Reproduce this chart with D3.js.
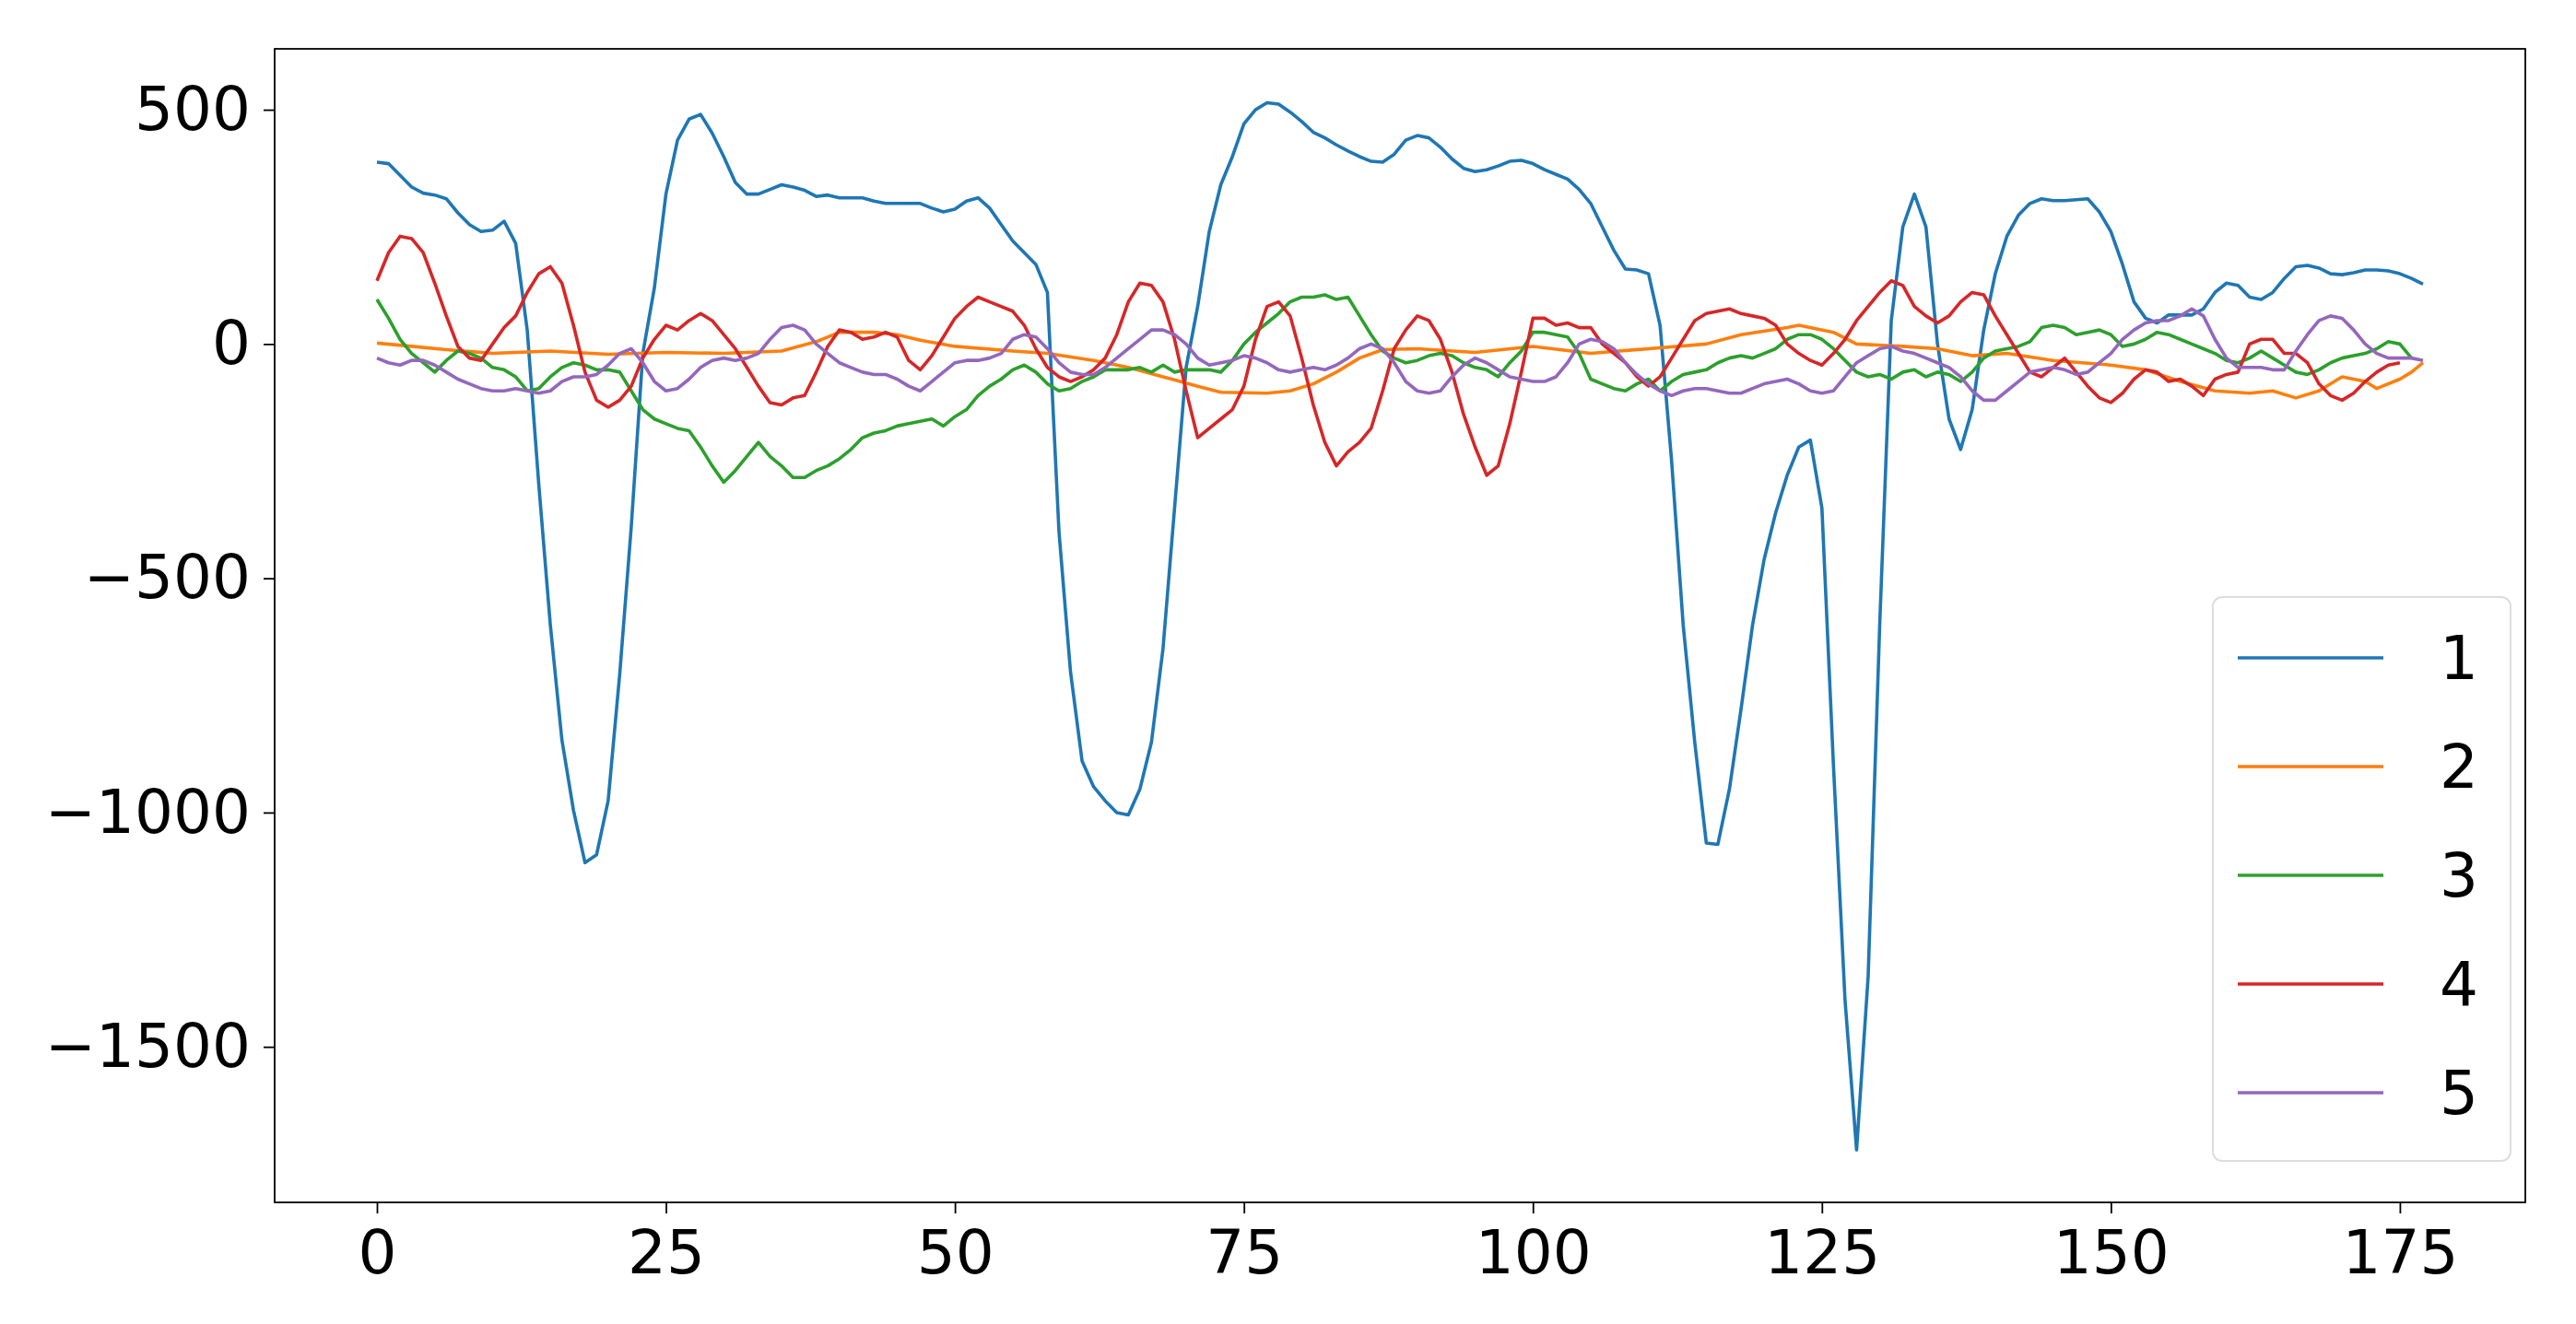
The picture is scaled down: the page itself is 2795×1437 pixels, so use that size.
<!DOCTYPE html>
<html><head><meta charset="utf-8">
<script src="https://cdn.jsdelivr.net/npm/d3@7"></script>
<style>body{margin:0;background:#fff}</style>
</head><body>
<svg id="c" width="2795" height="1437"></svg>
<script>
const seriesNames = ["1","2","3","4","5"];
const colors = ["#1f77b4","#ff7f0e","#2ca02c","#d62728","#9467bd"];
const xTicks = [0,25,50,75,100,125,150,175];
const yTicks = [500,0,-500,-1000,-1500];

const s1 = [388,385,360,335,322,318,310,280,255,240,243,262,215,30,-300,-600,-845,-995,-1107,-1090,-975,-705,-390,-20,120,320,435,480,490,450,400,345,320,320,330,340,335,328,315,318,312,312,312,305,300,300,300,300,290,282,288,305,312,290,255,220,195,170,110,-400,-700,-890,-945,-975,-1000,-1005,-950,-850,-650,-350,-50,80,240,340,400,470,500,515,512,495,475,452,440,425,412,400,390,388,405,435,445,440,420,395,375,368,372,380,390,392,385,372,362,352,330,300,250,200,160,158,150,40,-250,-600,-850,-1065,-1068,-950,-780,-600,-460,-360,-280,-220,-205,-350,-900,-1400,-1720,-1350,-600,50,250,320,250,0,-160,-225,-140,30,150,230,275,300,310,306,306,308,310,282,240,170,90,55,45,62,62,62,75,110,130,125,100,95,110,140,165,168,162,150,148,152,158,158,156,150,140,128];
const s2 = [[0,2],[3,-5],[6,-12],[10,-20],[15,-15],[20,-22],[25,-18],[30,-20],[35,-15],[38,5],[40,25],[43,25],[45,20],[47,8],[50,-5],[55,-15],[58,-20],[62,-35],[65,-50],[68,-70],[71,-90],[73,-103],[77,-105],[79,-100],[81,-85],[83,-60],[85,-30],[87,-12],[90,-10],[95,-18],[100,-5],[105,-20],[110,-10],[115,0],[118,20],[122,35],[123,40],[126,25],[128,0],[132,-5],[135,-10],[138,-25],[141,-20],[145,-35],[150,-45],[153,-55],[156,-80],[159,-100],[162,-105],[164,-100],[166,-115],[168,-100],[170,-70],[172,-80],[173,-95],[175,-75],[176,-60],[177,-40]];
const s3 = [95,55,10,-20,-40,-60,-35,-15,-20,-30,-50,-55,-70,-100,-95,-70,-50,-40,-45,-55,-55,-60,-100,-140,-160,-170,-180,-185,-220,-260,-295,-270,-240,-210,-240,-260,-285,-285,-270,-260,-245,-225,-200,-190,-185,-175,-170,-165,-160,-175,-155,-140,-110,-90,-75,-55,-45,-60,-85,-100,-95,-80,-70,-55,-55,-55,-50,-60,-45,-60,-55,-55,-55,-60,-35,0,25,45,65,90,100,100,105,95,100,60,20,-15,-30,-40,-35,-25,-20,-25,-40,-50,-55,-70,-40,-15,25,25,20,15,-20,-75,-85,-95,-100,-85,-75,-100,-80,-65,-60,-55,-40,-30,-25,-30,-20,-10,10,20,20,10,-10,-35,-60,-70,-65,-75,-60,-55,-70,-60,-65,-80,-60,-30,-15,-10,-5,5,35,40,35,20,25,30,20,-5,0,10,25,20,10,0,-10,-20,-35,-40,-30,-15,-30,-45,-60,-65,-55,-40,-30,-25,-20,-10,5,0,-30];
const s4 = [135,195,230,225,195,130,60,-5,-30,-35,0,35,60,110,150,165,130,40,-60,-120,-135,-120,-90,-30,10,40,30,50,65,50,20,-10,-50,-90,-125,-130,-115,-110,-60,-5,30,25,10,15,25,15,-35,-55,-25,15,55,80,100,90,80,70,40,-10,-50,-70,-80,-70,-55,-30,20,90,130,125,90,10,-100,-200,-180,-160,-140,-90,10,80,90,60,-30,-130,-210,-260,-230,-210,-180,-100,-10,30,60,50,10,-60,-150,-220,-280,-260,-170,-60,55,55,40,45,35,35,0,-20,-40,-70,-90,-70,-30,10,50,65,70,75,65,60,55,40,0,-20,-35,-45,-20,10,50,80,110,135,125,80,60,45,60,90,110,105,60,20,-20,-60,-70,-50,-30,-60,-90,-115,-125,-105,-75,-55,-60,-80,-75,-90,-110,-75,-65,-60,0,10,10,-20,-20,-40,-85,-110,-120,-105,-80,-60,-45,-40];
const s5 = [-30,-40,-45,-35,-35,-45,-60,-75,-85,-95,-100,-100,-95,-100,-105,-100,-80,-70,-70,-65,-45,-20,-10,-40,-80,-100,-95,-75,-50,-35,-30,-35,-30,-20,10,35,40,30,0,-20,-40,-50,-60,-65,-65,-75,-90,-100,-80,-60,-40,-35,-35,-30,-20,10,20,15,-10,-40,-60,-65,-65,-50,-30,-10,10,30,30,20,0,-30,-45,-40,-35,-25,-30,-40,-55,-60,-55,-50,-55,-45,-30,-10,0,-10,-40,-80,-100,-105,-100,-70,-45,-30,-40,-55,-70,-75,-80,-80,-70,-40,0,10,5,-10,-40,-65,-85,-100,-110,-100,-95,-95,-100,-105,-105,-95,-85,-80,-75,-85,-100,-105,-100,-70,-40,-25,-10,-5,-15,-20,-30,-40,-50,-70,-100,-120,-120,-100,-80,-60,-55,-50,-55,-65,-60,-40,-20,10,30,45,50,50,60,75,60,10,-30,-50,-50,-50,-55,-55,-15,20,50,60,55,30,0,-20,-30,-30,-30,-35];

const toPairs = a => a.map((v,i)=>[i,v]);
const data = [toPairs(s1), s2, toPairs(s3), toPairs(s4), toPairs(s5)];

const L=298,R=2740,T=53,B=1305;
const x = d3.scale = d3.scaleLinear().domain([-8.85,185.85]).range([L,R]);
const y = d3.scaleLinear().domain([-1832,630]).range([B,T]);
const svg = d3.select("#c");
const font = "DejaVu Sans, sans-serif";

const line = d3.line().x(d=>x(d[0])).y(d=>y(d[1]));
data.forEach((d,i)=>{
  svg.append("path").datum(d).attr("d",line).attr("fill","none")
    .attr("stroke",colors[i]).attr("stroke-width",3.6).attr("stroke-linejoin","round");
});

svg.append("rect").attr("x",L).attr("y",T).attr("width",R-L).attr("height",B-T)
  .attr("fill","none").attr("stroke","#000").attr("stroke-width",1.8);

const gx = svg.append("g").attr("transform",`translate(0,${B})`)
  .call(d3.axisBottom(x).tickValues(xTicks).tickSize(12).tickPadding(12).tickFormat(d3.format("d")));
const gy = svg.append("g").attr("transform",`translate(${L},0)`)
  .call(d3.axisLeft(y).tickValues(yTicks).tickSize(12).tickPadding(14).tickFormat(d=>d<0?"\u2212"+Math.abs(d):d));
[gx,gy].forEach(g=>{
  g.select(".domain").remove();
  g.selectAll("line").attr("stroke","#000").attr("stroke-width",1.8);
  g.selectAll("text").attr("font-family",font).attr("font-size",66).attr("fill","#000");
});
gx.selectAll("text").attr("dy","0.8em");

const lg = svg.append("g");
lg.append("rect").attr("x",2401).attr("y",648).attr("width",323).attr("height",612).attr("rx",10)
  .attr("fill","#fff").attr("fill-opacity",0.8).attr("stroke","#ddd").attr("stroke-width",2);
seriesNames.forEach((n,i)=>{
  const yy = 714 + i*118;
  lg.append("line").attr("x1",2428).attr("x2",2586).attr("y1",yy).attr("y2",yy)
    .attr("stroke",colors[i]).attr("stroke-width",3.6);
  lg.append("text").attr("x",2668).attr("y",yy).attr("dy","0.35em").attr("text-anchor","middle")
    .attr("font-family",font).attr("font-size",66).text(n);
});
</script>
</body></html>
